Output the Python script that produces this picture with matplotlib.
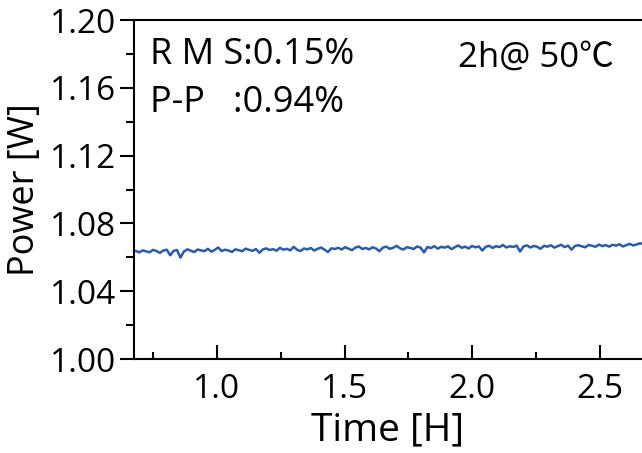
import numpy as np
import matplotlib
matplotlib.use('Agg')
import matplotlib.pyplot as plt
from matplotlib.ticker import MultipleLocator

plt.rcParams['font.family'] = ['Open Sans', 'Noto Sans CJK SC', 'DejaVu Sans']

t_start = 0.67
t_end = 2.67
power = [
    1.0632, 1.0638, 1.0629, 1.0641, 1.0635, 1.0630, 1.0644, 1.0637, 1.0626, 1.0640,
    1.0645, 1.0612, 1.0638, 1.0643, 1.0598, 1.0634, 1.0647, 1.0639, 1.0631, 1.0646,
    1.0641, 1.0636, 1.0650, 1.0633, 1.0644, 1.0658, 1.0637, 1.0645, 1.0640, 1.0632,
    1.0647, 1.0642, 1.0636, 1.0651, 1.0644, 1.0638, 1.0649, 1.0627, 1.0646, 1.0653,
    1.0643, 1.0648, 1.0639, 1.0656, 1.0645, 1.0650, 1.0641, 1.0662, 1.0644, 1.0637,
    1.0652, 1.0647, 1.0655, 1.0640, 1.0650, 1.0658, 1.0645, 1.0631, 1.0653, 1.0649,
    1.0656, 1.0646, 1.0660, 1.0651, 1.0642, 1.0657, 1.0664, 1.0649, 1.0655, 1.0647,
    1.0659, 1.0652, 1.0636, 1.0657, 1.0663, 1.0650, 1.0656, 1.0668, 1.0653, 1.0646,
    1.0660, 1.0655, 1.0649, 1.0664, 1.0657, 1.0629, 1.0661, 1.0654, 1.0666, 1.0651,
    1.0662, 1.0657, 1.0665, 1.0648, 1.0660, 1.0670, 1.0656, 1.0663, 1.0652, 1.0667,
    1.0659, 1.0664, 1.0640, 1.0662, 1.0668, 1.0655, 1.0666, 1.0660, 1.0673, 1.0658,
    1.0665, 1.0661, 1.0669, 1.0634, 1.0664, 1.0670, 1.0658, 1.0667, 1.0662, 1.0650,
    1.0668, 1.0663, 1.0671, 1.0657, 1.0666, 1.0674, 1.0660, 1.0669, 1.0645, 1.0667,
    1.0671, 1.0665, 1.0659, 1.0673, 1.0668, 1.0662, 1.0675, 1.0666, 1.0672, 1.0663,
    1.0674, 1.0669, 1.0677, 1.0664, 1.0672, 1.0679, 1.0670, 1.0676, 1.0683, 1.0678,
]
t = np.linspace(t_start, t_end, len(power))

fig = plt.figure(figsize=(6.42, 4.53), dpi=100)
ax = fig.add_axes([0.2087, 0.2075, 0.7913, 0.7483])

ax.plot(t, power, color='#2b5cab', lw=1.8)

ax.set_xlim(0.676, 2.664)
ax.set_ylim(1.00, 1.20)
ax.xaxis.set_major_locator(MultipleLocator(0.5))
ax.xaxis.set_minor_locator(MultipleLocator(0.25))
ax.yaxis.set_major_locator(MultipleLocator(0.04))
ax.yaxis.set_minor_locator(MultipleLocator(0.02))
ax.yaxis.set_major_formatter(plt.FormatStrFormatter('%.2f'))
ax.xaxis.set_major_formatter(plt.FormatStrFormatter('%.1f'))

ax.spines['right'].set_visible(False)
for s in ['left', 'bottom', 'top']:
    ax.spines[s].set_linewidth(1.5)

ax.tick_params(axis='y', which='both', direction='out', width=1.5, labelsize=24, pad=3)
ax.tick_params(axis='y', which='major', length=10)
ax.tick_params(axis='y', which='minor', length=6)
ax.tick_params(axis='x', which='both', direction='in', width=1.5, labelsize=24, pad=10)
ax.tick_params(axis='x', which='major', length=10)
ax.tick_params(axis='x', which='minor', length=5)

ax.set_xlabel('Time [H]', fontsize=28, labelpad=4)
ax.set_ylabel('Power [W]', fontsize=26, labelpad=5)

ax.text(0.031, 0.897, 'R M S:0.15%', transform=ax.transAxes,
        fontsize=26, va='center', ha='left')
ax.text(0.031, 0.755, 'P-P   :0.94%', transform=ax.transAxes,
        fontsize=26, va='center', ha='left')
ax.text(0.638, 0.89, '2h@ 50\u2103', transform=ax.transAxes,
        fontsize=25, va='center', ha='left')

fig.savefig('out.png', dpi=100)
